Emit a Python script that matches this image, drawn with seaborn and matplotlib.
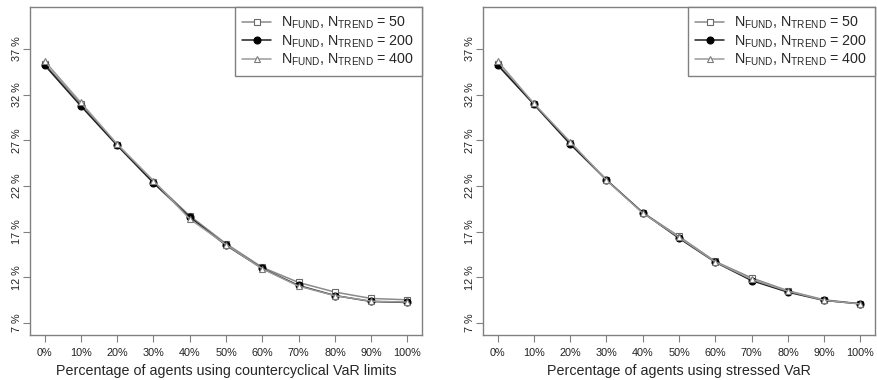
import numpy as np
import pandas as pd
import matplotlib
matplotlib.use("Agg")
import matplotlib.pyplot as plt
import seaborn as sns

# ---- data ----
x_pos = list(range(11))
x_labels = ["0%", "10%", "20%", "30%", "40%", "50%", "60%", "70%", "80%", "90%", "100%"]
y_ticks = [7, 12, 17, 22, 27, 32, 37]
y_labels = ["7 %", "12 %", "17 %", "22 %", "27 %", "32 %", "37 %"]
levels = ["50", "200", "400"]

left_50 = [35.4, 31.0, 26.55, 22.5, 18.75, 15.7, 13.1, 11.45, 10.4, 9.7, 9.55]
left_200 = [35.25, 30.77, 26.45, 22.35, 18.6, 15.53, 12.98, 11.12, 10.02, 9.37, 9.26]
left_400 = [35.7, 31.15, 26.6, 22.6, 18.4, 15.6, 12.95, 11.05, 10.0, 9.4, 9.3]

right_50 = [35.4, 31.0, 26.75, 22.7, 19.1, 16.5, 13.75, 11.95, 10.55, 9.55, 9.12]
right_200 = [35.25, 30.95, 26.6, 22.67, 19.1, 16.29, 13.67, 11.66, 10.39, 9.48, 9.11]
right_400 = [35.7, 31.05, 26.85, 22.65, 19.05, 16.4, 13.7, 11.8, 10.5, 9.5, 9.1]

xlabel_left = "Percentage of agents using countercyclical VaR limits"
xlabel_right = "Percentage of agents using stressed VaR"


def make_df(s50, s200, s400):
    rows = []
    for lev, s in zip(levels, [s50, s200, s400]):
        for xp, v in zip(x_pos, s):
            rows.append({"x": xp, "y": v, "N": lev})
    return pd.DataFrame(rows)


sns.set_style("white")
plt.rcParams["font.family"] = ["Liberation Sans", "DejaVu Sans"]
plt.rcParams["mathtext.fontset"] = "custom"
plt.rcParams["mathtext.rm"] = "Liberation Sans"

fig = plt.figure(figsize=(8.77, 3.8), dpi=100)
ax1 = fig.add_axes([30 / 877, 45 / 380, 392 / 877, 328 / 380])
ax2 = fig.add_axes([483 / 877, 45 / 380, 392 / 877, 328 / 380])

gray = "#808080"
line_colors = {"50": "#8a8a8a", "200": "#202020", "400": "#9a9a9a"}
markers = {"50": "s", "200": "o", "400": "^"}
mfc = {"50": "white", "200": "black", "400": "white"}
mec = {"50": "#6a6a6a", "200": "black", "400": "#7a7a7a"}

for ax, data, xl in [(ax1, make_df(left_50, left_200, left_400), xlabel_left),
                     (ax2, make_df(right_50, right_200, right_400), xlabel_right)]:
    for lev in levels:
        sub = data[data["N"] == lev]
        sns.lineplot(data=sub, x="x", y="y", ax=ax, color=line_colors[lev],
                     marker=markers[lev], markersize=4.5 if lev != "200" else 5,
                     markerfacecolor=mfc[lev], markeredgecolor=mec[lev],
                     markeredgewidth=0.8, linewidth=1.1,
                     label=r"N$_{\mathrm{FUND}}$, N$_{\mathrm{TREND}}$ = " + lev)
    ax.set_xlim(-0.4, 10.4)
    ax.set_ylim(5.7, 41.6)
    ax.set_xticks(x_pos)
    ax.set_xticklabels(x_labels, fontsize=7.8)
    ax.set_yticks(y_ticks)
    ax.set_yticklabels(y_labels, fontsize=7.8, rotation=90, va="center")
    ax.set_xlabel(xl, fontsize=10.3, labelpad=5)
    ax.set_ylabel("")
    for sp in ax.spines.values():
        sp.set_color(gray)
        sp.set_linewidth(1.0)
    ax.tick_params(axis="both", direction="out", length=5, width=0.8, color=gray,
                   labelcolor="#222222")
    ax.tick_params(axis="x", bottom=True, pad=4)
    ax.tick_params(axis="y", left=True, pad=1)
    leg = ax.legend(loc="upper right", bbox_to_anchor=(1.0, 1.0), borderaxespad=0,
                    fontsize=10.3, frameon=True, fancybox=False, framealpha=1,
                    edgecolor=gray, handlelength=2.0, handletextpad=0.7,
                    labelspacing=0.15, borderpad=0.55)
    leg.get_frame().set_linewidth(1.0)

fig.savefig("out.png", dpi=100)
